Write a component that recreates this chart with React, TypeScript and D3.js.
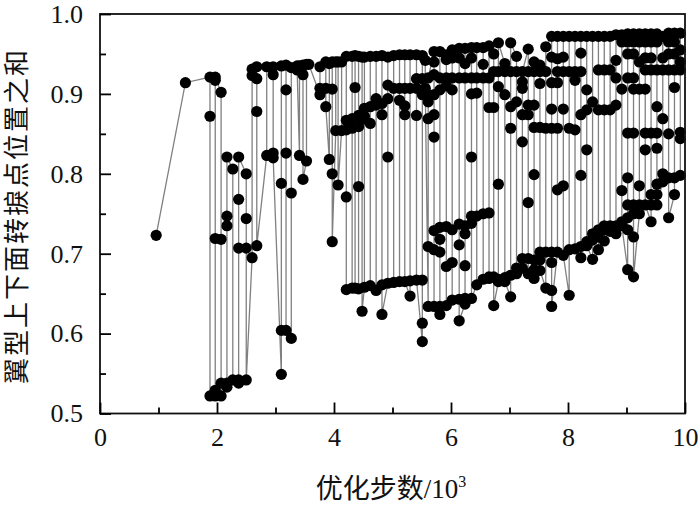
import React, { useEffect, useRef } from "react";
import * as d3 from "d3";

const width = 700;
const height = 507;
const margin = { left: 100, right: 15, top: 14, bottom: 93.5 };

const xTicks = [0, 2, 4, 6, 8, 10];
const xMinorTicks = [1, 3, 5, 7, 9];
const yTicks = [0.5, 0.6, 0.7, 0.8, 0.9, 1.0];
const yMinorTicks = [0.55, 0.65, 0.75, 0.85, 0.95];

// optimisation step (thousands) of each column of points
const steps = [
  0.96, 1.46, 1.88, 1.97, 2.07, 2.17, 2.27, 2.37, 2.5, 2.6, 2.68, 2.85, 2.96, 3.1, 3.18, 3.27,
  3.37, 3.41, 3.47, 3.53, 3.57, 3.76, 3.86, 3.92, 3.97, 4.03, 4.07, 4.13, 4.21, 4.31, 4.36,
  4.42, 4.48, 4.52, 4.62, 4.72, 4.82, 4.92, 5.02, 5.12, 5.21, 5.3, 5.41, 5.51, 5.56, 5.61,
  5.71, 5.81, 5.92, 6.02, 6.14, 6.24, 6.35, 6.44, 6.55, 6.65, 6.73, 6.81, 6.92, 7.02, 7.12,
  7.22, 7.32, 7.42, 7.52, 7.62, 7.72, 7.82, 7.92, 8.02, 8.12, 8.22, 8.32, 8.42, 8.52, 8.62,
  8.72, 8.82, 8.92, 9.02, 9.12, 9.22, 9.32, 9.42, 9.52, 9.62, 9.72, 9.82, 9.92,
];

// sum of upper and lower transition positions read at each of those steps
const positionSums = [
  [0.723], [0.914], [0.921, 0.872, 0.522], [0.921, 0.917, 0.719, 0.529, 0.522],
  [0.902, 0.718, 0.538, 0.522], [0.821, 0.747, 0.735, 0.538, 0.533], [0.806, 0.542],
  [0.821, 0.768, 0.707, 0.542, 0.538], [0.8, 0.744, 0.707, 0.542], [0.931, 0.923, 0.695],
  [0.934, 0.919, 0.878, 0.71], [0.934, 0.823], [0.934, 0.924, 0.826, 0.82],
  [0.935, 0.788, 0.604, 0.549], [0.936, 0.905, 0.826, 0.604], [0.933, 0.776, 0.594],
  [0.935, 0.93], [0.935, 0.823], [0.936, 0.924, 0.793], [0.937, 0.816], [0.937],
  [0.934, 0.907, 0.899], [0.94, 0.907, 0.884], [0.938, 0.818], [0.94, 0.906, 0.8, 0.715],
  [0.94, 0.854], [0.94, 0.786], [0.94, 0.854], [0.947, 0.867, 0.855, 0.771, 0.655],
  [0.947, 0.869, 0.857, 0.657], [0.948, 0.908, 0.657], [0.947, 0.873, 0.859, 0.784, 0.656],
  [0.946, 0.868, 0.628], [0.946, 0.882, 0.872, 0.658], [0.947, 0.884, 0.863, 0.66], [0.947, 0.894, 0.886, 0.654],
  [0.948, 0.888, 0.874, 0.661, 0.624], [0.946, 0.911, 0.894, 0.821, 0.663],
  [0.948, 0.907, 0.664], [0.949, 0.907, 0.892, 0.665], [0.949, 0.907, 0.885, 0.874, 0.665],
  [0.949, 0.907, 0.666, 0.647], [0.949, 0.919, 0.907, 0.873, 0.667],
  [0.948, 0.919, 0.899, 0.667, 0.613, 0.59], [0.942, 0.907],
  [0.92, 0.899, 0.89, 0.869, 0.709, 0.634],
  [0.953, 0.94, 0.924, 0.899, 0.874, 0.846, 0.729, 0.705, 0.634],
  [0.953, 0.92, 0.905, 0.733, 0.718, 0.702, 0.634, 0.624],
  [0.949, 0.943, 0.92, 0.91, 0.734, 0.684, 0.635], [0.955, 0.945, 0.92, 0.905, 0.73, 0.689, 0.642],
  [0.957, 0.945, 0.92, 0.737, 0.711, 0.643, 0.616], [0.957, 0.938, 0.92, 0.735, 0.725, 0.685, 0.644, 0.637],
  [0.958, 0.945, 0.92, 0.9, 0.821, 0.747, 0.738, 0.644], [0.958, 0.92, 0.901, 0.747, 0.661],
  [0.958, 0.937, 0.92, 0.75, 0.668], [0.96, 0.92, 0.883, 0.751, 0.671, 0.669],
  [0.95, 0.928, 0.883, 0.671, 0.635], [0.964, 0.928, 0.909, 0.787, 0.668, 0.665],
  [0.938, 0.928, 0.899, 0.67, 0.665], [0.964, 0.928, 0.884, 0.857, 0.673, 0.646],
  [0.947, 0.928, 0.89, 0.682, 0.675], [0.928, 0.915, 0.907, 0.874, 0.84, 0.694, 0.682],
  [0.956, 0.928, 0.886, 0.874, 0.764, 0.694, 0.675], [0.94, 0.928, 0.886, 0.858, 0.799, 0.692, 0.68, 0.669],
  [0.936, 0.928, 0.913, 0.858, 0.702, 0.692, 0.679], [0.959, 0.928, 0.857, 0.702, 0.657],
  [0.972, 0.946, 0.914, 0.881, 0.857, 0.702, 0.689, 0.654, 0.634],
  [0.972, 0.944, 0.928, 0.914, 0.857, 0.78, 0.702], [0.972, 0.946, 0.928, 0.881, 0.785, 0.698],
  [0.972, 0.928, 0.857, 0.705, 0.648], [0.972, 0.928, 0.917, 0.855, 0.706],
  [0.972, 0.951, 0.928, 0.874, 0.798, 0.709, 0.695], [0.972, 0.905, 0.88, 0.83, 0.715, 0.71],
  [0.972, 0.89, 0.725, 0.717, 0.693], [0.972, 0.93, 0.88, 0.73, 0.721, 0.705], [0.972, 0.93, 0.88, 0.735, 0.73, 0.716],
  [0.972, 0.93, 0.88, 0.735, 0.728], [0.974, 0.942, 0.92, 0.886, 0.735, 0.725], [0.974, 0.965, 0.906, 0.779, 0.74, 0.735],
  [0.975, 0.965, 0.95, 0.92, 0.851, 0.795, 0.761, 0.745, 0.73, 0.68], [0.975, 0.965, 0.95, 0.92, 0.906, 0.851, 0.761, 0.75, 0.721, 0.671],
  [0.975, 0.965, 0.94, 0.906, 0.785, 0.761, 0.75], [0.975, 0.965, 0.945, 0.93, 0.906, 0.851, 0.83, 0.761],
  [0.975, 0.965, 0.945, 0.93, 0.851, 0.774, 0.761, 0.74], [0.975, 0.965, 0.93, 0.884, 0.851, 0.832, 0.787, 0.774, 0.761],
  [0.972, 0.945, 0.93, 0.869, 0.8, 0.79], [0.976, 0.965, 0.95, 0.93, 0.85, 0.795, 0.745],
  [0.976, 0.965, 0.95, 0.93, 0.908, 0.795, 0.774], [0.976, 0.955, 0.94, 0.93, 0.852, 0.844, 0.798],
];

const App = () => {
  const axisRef = useRef<SVGGElement>(null);

  const x = d3.scaleLinear().domain([0, 10]).range([margin.left, width - margin.right]);
  const y = d3.scaleLinear().domain([0.5, 1]).range([height - margin.bottom, margin.top]);

  // every other column runs bottom to top, so the line snakes up and down
  const points: [number, number][] = steps.flatMap((step, i) => {
    const column = i % 2 === 0 ? positionSums[i] : [...positionSums[i]].reverse();
    return column.map(v => [step, v] as [number, number]);
  });
  const lineFn = d3.line<[number, number]>().x(d => x(d[0])).y(d => y(d[1]));

  useEffect(() => {
    const g = d3.select(axisRef.current);
    g.selectAll("*").remove();
    const bottom = height - margin.bottom;

    const draw = (axis: any, tx: number, ty: number) => {
      const a = g.append("g").attr("transform", `translate(${tx},${ty})`).call(axis);
      a.selectAll(".domain").remove();
      a.selectAll("line").attr("stroke", "#000").attr("stroke-width", 1.8);
      a.selectAll("text")
        .attr("fill", "#111")
        .style("font-family", "'Liberation Serif'")
        .style("font-size", "26px");
    };

    draw(d3.axisBottom(x).tickValues(xTicks).tickFormat(d3.format("d")).tickSize(-11).tickPadding(14), 0, bottom);
    draw(d3.axisBottom(x).tickValues(xMinorTicks).tickFormat(() => "").tickSize(-6), 0, bottom);
    draw(d3.axisLeft(y).tickValues(yTicks).tickFormat(d3.format(".1f")).tickSize(-11).tickPadding(17), margin.left, 0);
    draw(d3.axisLeft(y).tickValues(yMinorTicks).tickFormat(() => "").tickSize(-6), margin.left, 0);
  }, []);

  return (
    <svg width={width} height={height} style={{ position: "absolute", left: 0, top: 0, background: "#fff" }}>
      <path d={lineFn(points) || ""} fill="none" stroke="#808080" strokeWidth={1.3} />
      {points.map((p, i) => (
        <circle key={i} cx={x(p[0])} cy={y(p[1])} r={5.6} fill="#000" />
      ))}
      <rect
        x={margin.left}
        y={margin.top}
        width={width - margin.left - margin.right}
        height={height - margin.top - margin.bottom}
        fill="none"
        stroke="#111"
        strokeWidth={1.8}
      />
      <g ref={axisRef} />
      <text
        transform="translate(26,216) rotate(-90)"
        textAnchor="middle"
        fontFamily="'Noto Sans CJK SC'"
        fontWeight={400}
        fontSize={26}
        letterSpacing={2}
        fill="#111"
      >
        翼型上下面转捩点位置之和
      </text>
      <text x={391} y={498} textAnchor="middle" fontFamily="'Noto Sans CJK SC'" fontWeight={400} fontSize={27} fill="#111">
        优化步数
        <tspan fontFamily="'Liberation Serif'">/10</tspan>
        <tspan fontFamily="'Liberation Serif'" fontSize={16} dy={-11}>3</tspan>
      </text>
    </svg>
  );
};

export default App;
